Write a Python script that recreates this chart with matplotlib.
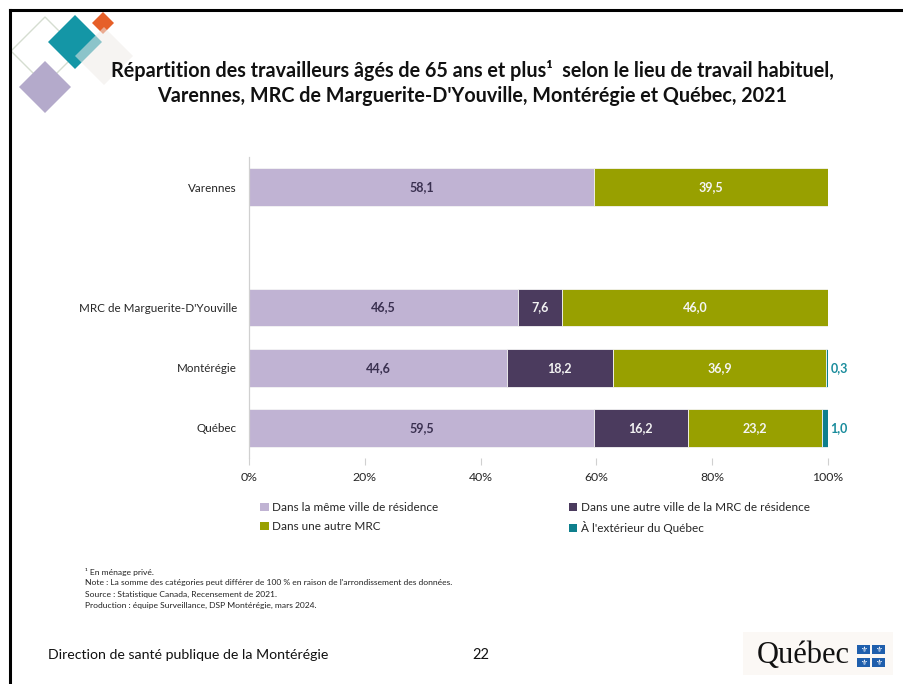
import numpy as np
import matplotlib
matplotlib.use("Agg")
import matplotlib.pyplot as plt
from matplotlib.patches import Rectangle, Polygon
from matplotlib.lines import Line2D

# ---------------- data ----------------
regions = ["Varennes", "MRC de Marguerite-D'Youville", "Montérégie", "Québec"]
meme_ville = [58.1, 46.5, 44.6, 59.5]
autre_ville_mrc = [np.nan, 7.6, 18.2, 16.2]
autre_mrc = [39.5, 46.0, 36.9, 23.2]
exterieur = [np.nan, np.nan, 0.3, 1.0]
series_labels = ["Dans la même ville de résidence",
                 "Dans une autre ville de la MRC de résidence",
                 "Dans une autre MRC",
                 "À l'extérieur du Québec"]
xticks_vals = [0, 20, 40, 60, 80, 100]
title_text = ("Répartition des travailleurs âgés de 65 ans et plus¹  selon le lieu de travail habituel,\n"
              "Varennes, MRC de Marguerite-D'Youville, Montérégie et Québec, 2021")
footnotes = ["¹ En ménage privé.",
             "Note : La somme des catégories peut différer de 100 % en raison de l'arrondissement des données.",
             "Source : Statistique Canada, Recensement de 2021.",
             "Production : équipe Surveillance, DSP Montérégie, mars 2024."]
footer_left = "Direction de santé publique de la Montérégie"
page_no = "22"

# ---------------- style ----------------
colors = ["#C0B3D3", "#4B3B5E", "#98A000", "#0E7F8D"]
label_colors = ["#3A3050", "#F2F2F2", "#F5F5F5", "#1A8C9C"]
FONT = ["Lato", "DejaVu Sans"]
plt.rcParams["font.family"] = FONT

W, H = 904, 684
fig = plt.figure(figsize=(W / 100, H / 100), dpi=100)

def fx(x):
    return x / W

def fy(y):
    return 1 - y / H

# frame of the slide
fig.add_artist(Line2D([fx(10), fx(904)], [fy(10), fy(10)], color="black", lw=2.2))
fig.add_artist(Line2D([fx(10), fx(10)], [fy(10), fy(684)], color="black", lw=2.2))

# decorative diamonds (top-left logo)
def diamond(cx, cy, r, **kw):
    pts = [(fx(cx), fy(cy - r)), (fx(cx + r), fy(cy)), (fx(cx), fy(cy + r)), (fx(cx - r), fy(cy))]
    p = Polygon(pts, closed=True, transform=fig.transFigure, **kw)
    fig.add_artist(p)

diamond(45, 51, 34, facecolor="none", edgecolor="#D5DDD0", lw=1.0)
diamond(45, 87, 26, facecolor="#B4AACB", edgecolor="none")
diamond(75, 42, 27, facecolor="#1496A6", edgecolor="none")
diamond(103, 23, 11, facecolor="#E65F28", edgecolor="none")
diamond(104, 56, 29, facecolor="#EFEBE8", edgecolor="none", alpha=0.55)

# ---------------- chart ----------------
ax = fig.add_axes([fx(249), fy(458), fx(828) - fx(249), fy(157) - fy(458)])
ypos = [0, 2, 3, 4]  # one blank slot after Varennes

data = np.array([meme_ville, autre_ville_mrc, autre_mrc, exterieur], dtype=float)
totals = np.nansum(data, axis=0)
shares = np.nan_to_num(data) / totals * 100

left = np.zeros(len(regions))
bar_h = 0.63
for i in range(data.shape[0]):
    vals = shares[i]
    ax.barh(ypos, vals, left=left, height=bar_h, color=colors[i],
            edgecolor="#F4F4F4", linewidth=0.6, label=series_labels[i])
    for j, y in enumerate(ypos):
        raw = data[i, j]
        if np.isnan(raw):
            continue
        txt = f"{raw:.1f}".replace(".", ",")
        if i == 3:
            ax.text(left[j] + vals[j] + 0.4, y, txt, ha="left", va="center",
                    fontsize=9, fontweight="bold", color=label_colors[i])
        else:
            ax.text(left[j] + vals[j] / 2, y, txt, ha="center", va="center",
                    fontsize=9, fontweight="bold", color=label_colors[i])
    left = left + vals

ax.set_xlim(0, 100)
ax.set_ylim(4.5, -0.5)
ax.set_yticks(ypos)
ax.set_yticklabels(regions, fontsize=8.4, color="#262626")
ax.set_xticks(xticks_vals)
ax.set_xticklabels([f"{v}%" for v in xticks_vals], fontsize=8.8, color="#262626")
ax.tick_params(axis="y", length=0, pad=8.6)
ax.tick_params(axis="x", length=5, width=0.8, color="#D0D0D0", pad=5)
for s in ["top", "right", "bottom"]:
    ax.spines[s].set_visible(False)
ax.spines["left"].set_color("#D0D0D0")
ax.spines["left"].set_linewidth(0.9)

handles, labels = ax.get_legend_handles_labels()
order = [0, 2, 1, 3]
leg = fig.legend([handles[k] for k in order], [labels[k] for k in order],
                 ncol=2, loc="upper left", bbox_to_anchor=(fx(260), fy(502)),
                 frameon=False, fontsize=8.5, handlelength=0.75, handleheight=0.75,
                 handletextpad=0.3, columnspacing=11.0, labelspacing=0.68,
                 borderaxespad=0, borderpad=0)
for t in leg.get_texts():
    t.set_color("#262626")
for h in leg.legend_handles:
    h.set_edgecolor("none")

# ---------------- texts ----------------
fig.text(fx(472), fy(83), title_text, ha="center", va="center", fontsize=14.2,
         fontweight="bold", color="#111111", linespacing=1.3)

for k, line in enumerate(footnotes):
    fig.text(fx(85), fy(572 + 11 * k), line, ha="left", va="center", fontsize=6.1, color="#222222")

fig.text(fx(48), fy(655), footer_left, ha="left", va="center", fontsize=10.2, color="#111111")
fig.text(fx(481), fy(655), page_no, ha="center", va="center", fontsize=10.5, color="#111111")

# Québec logo
fig.add_artist(Rectangle((fx(743), fy(675)), fx(893) - fx(743), fy(632) - fy(675),
                         transform=fig.transFigure, facecolor="#FBF8F5", edgecolor="none"))
fig.text(fx(803), fy(656), "Québec", ha="center", va="center", fontsize=22,
         family=["Liberation Serif", "DejaVu Serif"], color="#111111")
for (x0, y0) in [(857, 645), (872, 645), (857, 658), (872, 658)]:
    fig.add_artist(Rectangle((fx(x0), fy(y0 + 9)), fx(13), fy(0) - fy(9),
                             transform=fig.transFigure, facecolor="#1F5FAD", edgecolor="none"))
    fig.text(fx(x0 + 6.5), fy(y0 + 4.5), "⚜", ha="center", va="center", fontsize=5.5,
             color="white", family=["DejaVu Sans"])

fig.savefig("out.png", dpi=100)
